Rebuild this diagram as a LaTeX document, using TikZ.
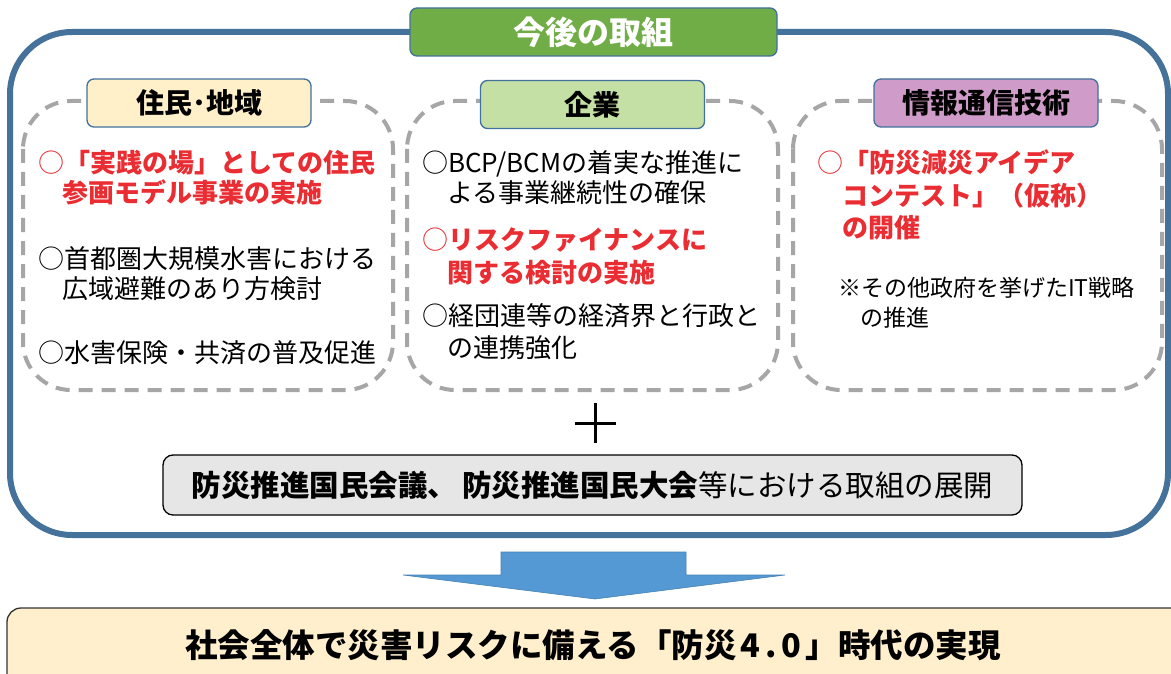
\documentclass[tikz,border=0pt]{standalone}
\usepackage{fontspec}
\setmainfont{Noto Sans CJK JP}
\definecolor{blueline}{RGB}{68,114,155}
\definecolor{dashgray}{RGB}{166,166,166}
\definecolor{titlegreen}{RGB}{112,173,71}
\definecolor{headborder}{RGB}{65,113,156}
\definecolor{headcream}{RGB}{255,240,201}
\definecolor{headgreen}{RGB}{197,224,165}
\definecolor{headpurple}{RGB}{207,155,200}
\definecolor{redtext}{RGB}{234,45,50}
\definecolor{graybox}{RGB}{231,230,230}
\definecolor{arrowblue}{RGB}{85,153,212}
\definecolor{bottomcream}{RGB}{255,239,204}
\tikzset{
  outerbox/.style={draw=blueline, line width=6pt, rounded corners=62pt},
  dashbox/.style={draw=dashgray, line width=4pt, dash pattern=on 14pt off 9pt, rounded corners=48pt},
  headbox/.style={draw=headborder, line width=1.3pt, rounded corners=7pt, minimum width=224pt, minimum height=48pt, inner sep=0pt, font=\bfseries\fontsize{28}{30}\selectfont},
  titlebox/.style={draw=headborder, fill=titlegreen, line width=1.3pt, rounded corners=7pt, minimum width=367pt, minimum height=48pt, inner sep=0pt, text=white, font=\bfseries\fontsize{32}{34}\selectfont},
  itemline/.style={anchor=base west, inner sep=0pt, font=\fontsize{26}{30}\selectfont},
  reditem/.style={itemline, text=redtext, font=\bfseries\fontsize{26}{30}\selectfont},
  noteline/.style={anchor=base west, inner sep=0pt, font=\fontsize{23}{27}\selectfont},
  plusbar/.style={draw=black, line width=3pt},
  bigarrow/.style={fill=arrowblue, draw=arrowblue!85!black, line width=0.6pt},
}
\begin{document}
\begin{tikzpicture}[x=1pt,y=-1pt]
\clip (0,0) rectangle (1171,674);
\fill[white] (0,0) rectangle (1171,674);

% outer frame
\draw[outerbox] (10,32) rectangle (1168,535);

% dashed groups
\draw[dashbox] (23,101) rectangle (393,390);
\draw[dashbox] (407,101) rectangle (778,390);
\draw[dashbox] (793,101) rectangle (1162,390);

% title and headings
\node[titlebox] (title) at (593.5,32) {今後の取組};
\node[headbox, fill=headcream] (h1) at (199,103) {住民･地域};
\node[headbox, fill=headgreen] (h2) at (592.5,104.5) {企業};
\node[headbox, fill=headpurple] (h3) at (986,103) {情報通信技術};

% group 1
\node[reditem] (a1) at (38,173) {{\mdseries ○}「実践の場」としての住民};
\node[reditem] (a2) at (62,203) {参画モデル事業の実施};
\node[itemline] (a3) at (38,268) {○首都圏大規模水害における};
\node[itemline] (a4) at (62,298) {広域避難のあり方検討};
\node[itemline] (a5) at (38,362) {○水害保険・共済の普及促進};

% group 2
\node[itemline] (b1) at (422,173) {○BCP/BCMの着実な推進に};
\node[itemline] (b2) at (447,203) {よる事業継続性の確保};
\node[reditem] (b3) at (422,250) {{\mdseries ○}リスクファイナンスに};
\node[reditem] (b4) at (447,282) {関する検討の実施};
\node[itemline] (b5) at (422,325) {○経団連等の経済界と行政と};
\node[itemline] (b6) at (447,357) {の連携強化};

% group 3
\node[reditem] (c1) at (817,173) {{\mdseries ○}「防災減災アイデア};
\node[reditem] (c2) at (842,205) {コンテスト」（仮称）};
\node[reditem] (c3) at (842,237) {の開催};
\node[noteline] (c4) at (838,296) {※その他政府を挙げたIT戦略};
\node[noteline] (c5) at (860,326) {の推進};

% plus sign
\draw[plusbar] (595,403) -- (595,443);
\draw[plusbar] (575,423) -- (616,423);

% gray box
\node[draw=black, fill=graybox, line width=1.3pt, rounded corners=10pt, minimum width=859pt, minimum height=60pt, inner sep=0pt, font=\fontsize{29.5}{31}\selectfont] (g) at (592.5,485) {{\bfseries 防災推進国民会議、\hspace{5pt}防災推進国民大会}等における取組の展開};

% block arrow
\path[bigarrow] (501,552) -- (686,552) -- (686,575) -- (785,575) -- (595,599) -- (403,575) -- (501,575) -- cycle;

% bottom box
\draw[draw=black!80, fill=bottomcream, line width=1.3pt, rounded corners=14pt] (7,608) rectangle (1185,700);
\node[inner sep=0pt, font=\bfseries\fontsize{32.5}{34}\selectfont] (goal) at (593,645) {社会全体で災害リスクに備える「防災\hspace{4pt}4\hspace{5pt}.\hspace{5pt}0\hspace{4pt}」時代の実現};
\end{tikzpicture}
\end{document}
